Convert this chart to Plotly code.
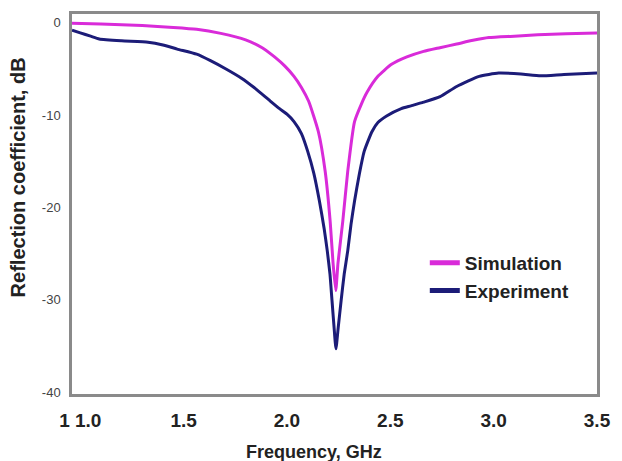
import plotly.graph_objects as go

# ---- data ----
sim_freq = [0.96, 1.10, 1.30, 1.45, 1.563, 1.68, 1.80, 1.88, 1.94, 1.99, 2.034, 2.07,
            2.105, 2.152, 2.185, 2.209, 2.223, 2.236, 2.247, 2.27, 2.294, 2.327, 2.36,
            2.388, 2.44, 2.506, 2.58, 2.661, 2.74, 2.821, 2.90, 2.977, 3.10, 3.213,
            3.35, 3.50]
sim_db = [-0.05, -0.12, -0.3, -0.5, -0.7, -1.15, -1.85, -2.7, -3.7, -4.7, -5.8, -7.0,
          -8.5, -11.8, -16.1, -21.5, -26.0, -29.0, -26.0, -21.5, -16.1, -10.7, -8.8,
          -7.5, -5.8, -4.5, -3.7, -3.1, -2.7, -2.3, -1.9, -1.6, -1.45, -1.3,
          -1.2, -1.1]

exp_freq = [0.96, 1.00, 1.05, 1.092, 1.20, 1.328, 1.40, 1.469, 1.563, 1.63, 1.705, 1.78,
            1.846, 1.91, 1.964, 2.00, 2.034, 2.07, 2.10, 2.13, 2.157, 2.18, 2.195, 2.208,
            2.218, 2.228, 2.237, 2.248, 2.262, 2.277, 2.294, 2.31, 2.327, 2.35, 2.374,
            2.411, 2.44, 2.482, 2.553, 2.60, 2.661, 2.741, 2.821, 2.93, 3.024, 3.132,
            3.227, 3.34, 3.50]
exp_db = [-0.8, -1.1, -1.45, -1.75, -1.95, -2.1, -2.4, -2.85, -3.4, -4.1, -5.0, -6.0,
          -7.1, -8.3, -9.3, -9.9, -10.7, -12.0, -13.9, -16.3, -19.3, -22.3, -24.7, -27.2,
          -30.1, -33.0, -35.3, -33.0, -30.1, -27.2, -24.7, -21.8, -19.3, -16.4, -13.9,
          -11.8, -10.8, -10.1, -9.3, -9.0, -8.6, -8.0, -6.9, -5.8, -5.45, -5.55,
          -5.75, -5.6, -5.45]

x_tick_vals = [1.0, 1.5, 2.0, 2.5, 3.0, 3.5]
x_tick_text = ["1 1.0", "1.5", "2.0", "2.5", "3.0", "3.5"]
y_tick_vals = [0, -10, -20, -30, -40]
y_tick_text = ["0", "-10", "-20", "-30", "-40"]

FONT = "Liberation Sans, Arial, sans-serif"

fig = go.Figure()
fig.add_trace(go.Scatter(x=sim_freq, y=sim_db, mode="lines", name="Simulation",
                         line=dict(color="#D92BD9", width=3, shape="spline", smoothing=0.5)))
fig.add_trace(go.Scatter(x=exp_freq, y=exp_db, mode="lines", name="Experiment",
                         line=dict(color="#1C1C78", width=3, shape="spline", smoothing=0.5)))

fig.update_layout(
    width=622, height=461,
    margin=dict(l=72, r=11, t=12, b=67),
    paper_bgcolor="white", plot_bgcolor="white",
    font=dict(family=FONT, color="#222"),
    showlegend=True,
    legend=dict(x=0.672, y=0.395, xanchor="left", yanchor="top",
                bgcolor="rgba(0,0,0,0)", borderwidth=0,
                font=dict(family=FONT, size=19, color="#222", weight="bold"),
                tracegroupgap=0, itemsizing="constant"),
    xaxis=dict(range=[0.96, 3.5], tickvals=x_tick_vals, ticktext=x_tick_text,
               showgrid=False, zeroline=False, showline=True, mirror=True,
               linecolor="#8a8a8a", linewidth=2.5, ticks="", ticklabelstandoff=7,
               tickfont=dict(family=FONT, size=19, color="#222", weight="bold")),
    yaxis=dict(range=[-40.2, 0.95], tickvals=y_tick_vals, ticktext=y_tick_text,
               showgrid=False, zeroline=False, showline=True, mirror=True,
               linecolor="#8a8a8a", linewidth=2.5, ticks="", ticklabelstandoff=6,
               tickfont=dict(family=FONT, size=13, color="#444")),
)

fig.add_annotation(text="<b>Frequency, GHz</b>", xref="paper", yref="paper",
                   x=0.46, y=0, yshift=-58, xanchor="center", yanchor="middle",
                   showarrow=False, font=dict(family=FONT, size=18, color="#222"))
fig.add_annotation(text="<b>Reflection coefficient, dB</b>", xref="paper", yref="paper",
                   x=0, xshift=-54, y=0.57, xanchor="center", yanchor="middle", textangle=-90,
                   showarrow=False, font=dict(family=FONT, size=20, color="#222"))

fig.write_html("out.html")
